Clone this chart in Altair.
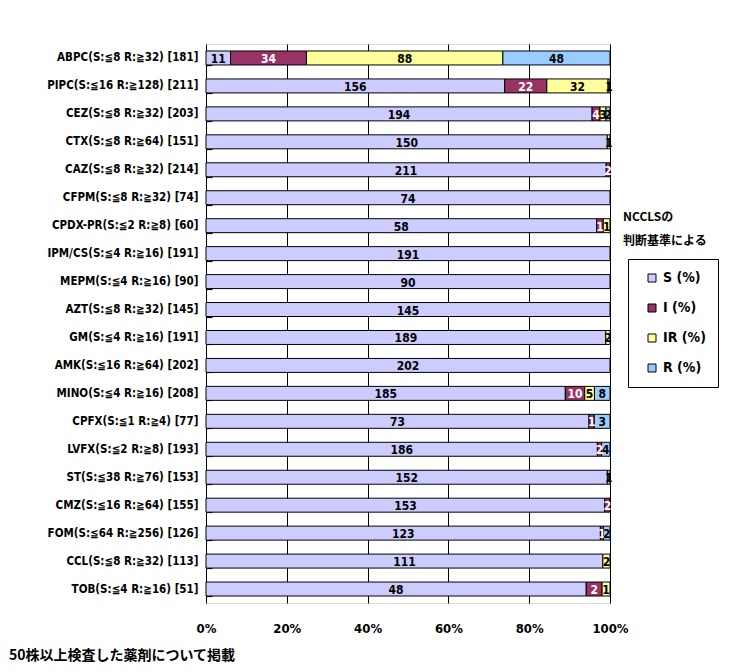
import altair as alt
import pandas as pd

drugs = [
    "ABPC(S:≦8 R:≧32) [181]",
    "PIPC(S:≦16 R:≧128) [211]",
    "CEZ(S:≦8 R:≧32) [203]",
    "CTX(S:≦8 R:≧64) [151]",
    "CAZ(S:≦8 R:≧32) [214]",
    "CFPM(S:≦8 R:≧32) [74]",
    "CPDX-PR(S:≦2 R:≧8) [60]",
    "IPM/CS(S:≦4 R:≧16) [191]",
    "MEPM(S:≦4 R:≧16) [90]",
    "AZT(S:≦8 R:≧32) [145]",
    "GM(S:≦4 R:≧16) [191]",
    "AMK(S:≦16 R:≧64) [202]",
    "MINO(S:≦4 R:≧16) [208]",
    "CPFX(S:≦1 R:≧4) [77]",
    "LVFX(S:≦2 R:≧8) [193]",
    "ST(S:≦38 R:≧76) [153]",
    "CMZ(S:≦16 R:≧64) [155]",
    "FOM(S:≦64 R:≧256) [126]",
    "CCL(S:≦8 R:≧32) [113]",
    "TOB(S:≦4 R:≧16) [51]",
]
S_vals = [11, 156, 194, 150, 211, 74, 58, 191, 90, 145, 189, 202, 185, 73, 186, 152, 153, 123, 111, 48]
I_vals = [34, 22, 4, 0, 2, 0, 1, 0, 0, 0, 0, 0, 10, 1, 2, 0, 2, 1, 0, 2]
IR_vals = [88, 32, 3, 1, 0, 0, 1, 0, 0, 0, 2, 0, 5, 0, 0, 0, 0, 0, 2, 1]
R_vals = [48, 1, 2, 0, 0, 0, 0, 0, 0, 0, 0, 0, 8, 3, 4, 1, 0, 2, 0, 0]

cats = ["S (%)", "I (%)", "IR (%)", "R (%)"]
colors = ["#CCCCFF", "#993366", "#FFFF99", "#99CCFF"]
x_ticks = [0, 0.2, 0.4, 0.6, 0.8, 1.0]
heading = ["NCCLSの", "判断基準による"]
footnote = "50株以上検査した薬剤について掲載"

rows = []
for i, d in enumerate(drugs):
    for k, (c, vals) in enumerate(zip(cats, [S_vals, I_vals, IR_vals, R_vals])):
        if vals[i] > 0:
            rows.append({"drug": d, "cat": c, "order": k, "n": vals[i]})
df = pd.DataFrame(rows)

FONT = "DejaVu Sans Condensed, Liberation Sans Narrow, sans-serif"
JFONT = "Noto Sans CJK JP, sans-serif"

yenc = alt.Y(
    "drug:N", sort=drugs, title=None,
    scale=alt.Scale(paddingInner=0.5, paddingOuter=0.25),
    axis=alt.Axis(labelFont=FONT, labelFontSize=11.5, labelFontWeight="bold",
                  labelColor="black", ticks=True, tickBand="extent", tickSize=6,
                  tickColor="black", tickWidth=1.2, offset=-6, domain=False,
                  labelPadding=8, labelLimit=300),
)

base = alt.Chart(df).transform_stack(
    stack="n", groupby=["drug"], as_=["x0", "x1"], offset="normalize",
    sort=[alt.SortField("order", order="ascending")],
).transform_calculate(mid="(datum.x0 + datum.x1) / 2")

bars = base.mark_bar(stroke="black", strokeWidth=1).encode(
    y=yenc,
    x=alt.X("x0:Q", title=None, scale=alt.Scale(domain=[0, 1], nice=False),
            axis=alt.Axis(values=x_ticks, format=".0%", grid=True, gridColor="black",
                          gridOpacity=1, gridWidth=1, ticks=False, domain=False,
                          labelPadding=19, labelFont=FONT, labelFontSize=13,
                          labelFontWeight="bold", labelColor="black", labelFlush=False)),
    x2="x1:Q",
    color=alt.Color("cat:N", scale=alt.Scale(domain=cats, range=colors),
                    legend=alt.Legend(title=None, orient="none", legendX=422, legendY=215,
                                      strokeColor="black", fillColor="white", padding=12,
                                      symbolType="square", symbolSize=64,
                                      symbolStrokeColor="black", symbolStrokeWidth=1,
                                      symbolOffset=5, labelOffset=4,
                                      labelFont=FONT, labelFontSize=14, labelFontWeight="bold",
                                      labelColor="black", rowPadding=16)),
)

labels = base.mark_text(font=FONT, fontSize=12, fontWeight="bold", baseline="middle", dy=1).encode(
    y=alt.Y("drug:N", sort=drugs),
    x=alt.X("mid:Q"),
    text="n:Q",
    color=alt.condition(alt.datum.cat == "I (%)", alt.value("white"), alt.value("black")),
)

head = alt.Chart(pd.DataFrame({"t": ["\n".join(heading)]})).mark_text(
    font=JFONT, fontSize=12, fontWeight="bold", align="left", baseline="middle",
    lineBreak="\n", lineHeight=24, color="black",
).encode(x=alt.value(417), y=alt.value(173), text="t:N")

foot = alt.Chart(pd.DataFrame({"t": [footnote]})).mark_text(
    font=JFONT, fontSize=14, fontWeight="bold", align="left", baseline="middle", color="black",
).encode(x=alt.value(-197), y=alt.value(612), text="t:N")

chart = alt.layer(bars, labels, head, foot).properties(
    width=404, height=559,
    padding={"left": 198, "top": 36, "right": 120, "bottom": 66},
    autosize=alt.AutoSizeParams(type="none"),
).configure_view(stroke="black", strokeWidth=1).configure(background="white")

chart.save("out.html", embed_options={"renderer": "svg", "actions": False})
